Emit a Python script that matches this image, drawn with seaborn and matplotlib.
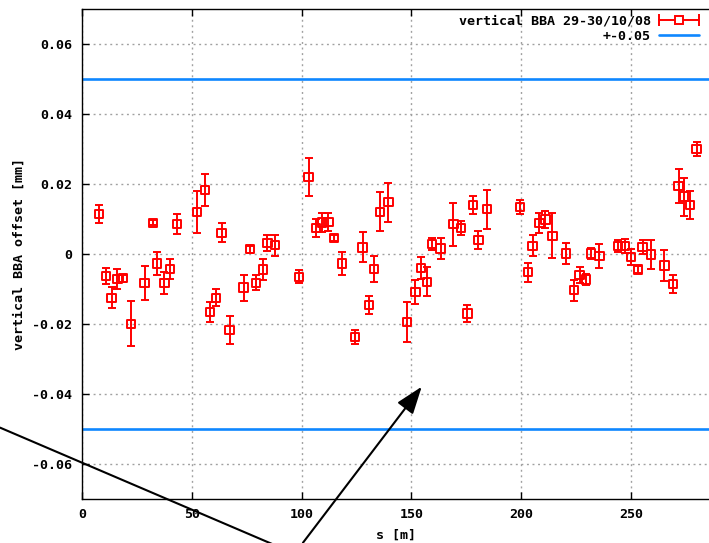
import numpy as np
import pandas as pd
import matplotlib
matplotlib.use("Agg")
import matplotlib.pyplot as plt
from matplotlib.lines import Line2D
from matplotlib.legend_handler import HandlerLine2D, HandlerTuple
import seaborn as sns

# ---------------- data ----------------
s_pos = [7.7, 10.8, 13.5, 16.1, 18.8, 22.3, 28.5, 32.3, 34.3, 37.5, 40.2, 43.4,
         52.4, 56.0, 58.3, 60.9, 63.6, 67.2, 73.6, 76.6, 79.2, 82.4, 84.4, 88.0, 98.7,
         103.2, 106.7, 109.3, 112.2, 114.9, 118.4, 124.2, 127.8, 130.6, 133.0, 135.7, 139.5,
         148.1, 151.8, 154.5, 157.2, 159.5, 163.3, 169.1, 172.6, 175.5, 178.0, 180.5, 184.3,
         199.5, 203.0, 205.2, 208.3, 211.0, 214.2, 220.3, 223.9, 226.6, 229.4, 231.8, 235.6,
         244.2, 247.3, 250.0, 253.2, 255.3, 259.0, 265.2, 269.0, 271.7, 274.1, 276.9, 279.9]
offset = [0.0113, -0.0064, -0.0126, -0.0073, -0.0070, -0.0200, -0.0083, 0.0088, -0.0028, -0.0083, -0.0044, 0.0084,
          0.0120, 0.0182, -0.0166, -0.0126, 0.0060, -0.0218, -0.0097, 0.0013, -0.0083, -0.0045, 0.0030, 0.0024, -0.0066,
          0.0219, 0.0074, 0.0089, 0.0091, 0.0044, -0.0028, -0.0238, 0.0018, -0.0146, -0.0044, 0.0120, 0.0147,
          -0.0195, -0.0109, -0.0041, -0.0080, 0.0028, 0.0015, 0.0084, 0.0074, -0.0171, 0.0140, 0.0039, 0.0127,
          0.0133, -0.0053, 0.0022, 0.0088, 0.0098, 0.0051, 0.0001, -0.0104, -0.0060, -0.0074, 0.0001, -0.0007,
          0.0022, 0.0022, -0.0010, -0.0045, 0.0020, -0.0002, -0.0034, -0.0087, 0.0193, 0.0163, 0.0139, 0.0300]
offset_err = [0.0025, 0.0022, 0.0030, 0.0029, 0.0010, 0.0065, 0.0048, 0.0007, 0.0033, 0.0032, 0.0029, 0.0029,
              0.0060, 0.0045, 0.0028, 0.0024, 0.0028, 0.0041, 0.0037, 0.0010, 0.0022, 0.0029, 0.0023, 0.0030, 0.0019,
              0.0053, 0.0025, 0.0027, 0.0025, 0.0008, 0.0034, 0.0020, 0.0043, 0.0026, 0.0036, 0.0055, 0.0056,
              0.0058, 0.0034, 0.0032, 0.0042, 0.0017, 0.0031, 0.0061, 0.0020, 0.0025, 0.0026, 0.0025, 0.0056,
              0.0019, 0.0027, 0.0030, 0.0028, 0.0025, 0.0064, 0.0030, 0.0030, 0.0023, 0.0015, 0.0015, 0.0035,
              0.0018, 0.0021, 0.0023, 0.0010, 0.0020, 0.0042, 0.0045, 0.0026, 0.0048, 0.0054, 0.0039, 0.0020]
limit = 0.05

x_ticks = [0, 50, 100, 150, 200, 250]
x_tick_labels = ["0", "50", "100", "150", "200", "250"]
y_ticks = [-0.06, -0.04, -0.02, 0.0, 0.02, 0.04, 0.06]
y_tick_labels = ["-0.06", "-0.04", "-0.02", "0", "0.02", "0.04", "0.06"]

series_label = "vertical BBA 29-30/10/08"
limit_label = "+-0.05"
x_label = "s [m]"
y_label = "vertical BBA offset [mm]"

# annotation arrows (data coordinates, drawn outside the axes like the reference)
arrow1_tail = (-37.3, -0.0497)
arrow1_head = (112.9, -0.0900)
arrow2_tail = (100.6, -0.0826)
arrow2_head = (154.7, -0.0380)

df = pd.DataFrame({"s": s_pos, "offset": offset, "err": offset_err})

# ---------------- figure ----------------
sns.set_theme(style="white")
FONT = ["DejaVu Sans Mono", "DejaVu Sans"]
plt.rcParams["font.family"] = FONT
plt.rcParams["font.weight"] = "bold"
plt.rcParams["text.color"] = "black"
plt.rcParams["axes.labelcolor"] = "black"
plt.rcParams["xtick.color"] = "black"
plt.rcParams["ytick.color"] = "black"

W, H = 709, 543
fig = plt.figure(figsize=(W / 100, H / 100), dpi=100)
left, right, top, bottom = 82, 709, 8.7, 498.7
ax = fig.add_axes([left / W, 1 - bottom / H, (right - left) / W, (bottom - top) / H])

RED = "#ff0000"
BLUE = "#0f87ff"
FS = 9.6

ax.errorbar(df["s"], df["offset"], yerr=df["err"], fmt="none", ecolor=RED,
            elinewidth=1.4, capsize=2.9, capthick=1.4, zorder=3)
sns.scatterplot(data=df, x="s", y="offset", ax=ax, marker="s", s=36,
                facecolor="none", edgecolor=RED, linewidth=1.4, zorder=4, legend=False)
ax.axhline(limit, color=BLUE, lw=1.9, zorder=2)
ax.axhline(-limit, color=BLUE, lw=1.9, zorder=2)

ax.set_xlim(0, (right - left) / 2.196)
ax.set_ylim(-0.07, 0.07)
ax.set_xticks(x_ticks)
ax.set_xticklabels(x_tick_labels)
ax.set_yticks(y_ticks)
ax.set_yticklabels(y_tick_labels)

ax.grid(True, color="#a0a0a0", linestyle=(0, (1.4, 2.6)), linewidth=1.0)
ax.set_axisbelow(True)
for side in ["left", "bottom", "top"]:
    ax.spines[side].set_visible(True)
    ax.spines[side].set_color("black")
    ax.spines[side].set_linewidth(1.0)
ax.spines["right"].set_visible(False)

ax.tick_params(axis="both", which="major", direction="in", length=5, width=1,
               colors="black", labelcolor="black", labelsize=FS, top=True, left=True, bottom=True)
ax.tick_params(axis="y", pad=7)
ax.tick_params(axis="x", pad=7)
for lab in ax.get_xticklabels() + ax.get_yticklabels():
    lab.set_fontweight("bold")
    lab.set_family(FONT)
    lab.set_color("black")

ax.set_xlabel(x_label, fontsize=FS, fontweight="bold", labelpad=5, color="black")
ax.set_ylabel(y_label, fontsize=FS, fontweight="bold", labelpad=5, color="black")

# legend handles imitating gnuplot's key
h_line = Line2D([], [], color=RED, lw=1.4)
h_caps = Line2D([], [], color=RED, lw=0, marker="|", markersize=8, markeredgewidth=1.4)
h_box = Line2D([], [], color=RED, lw=0, marker="s", markersize=5.5,
               markerfacecolor="white", markeredgecolor=RED, markeredgewidth=1.4)
h_blue = Line2D([], [], color=BLUE, lw=1.9)
leg = ax.legend([(h_line, h_caps, h_box), h_blue], [series_label, limit_label],
                handler_map={h_caps: HandlerLine2D(numpoints=2, marker_pad=0.0),
                             h_box: HandlerLine2D(numpoints=1),
                             tuple: HandlerTuple(ndivide=1)},
                loc="upper right", bbox_to_anchor=(699 / W, 1 - 14.5 / H),
                bbox_transform=fig.transFigure, frameon=False, markerfirst=False,
                handlelength=3.0, handletextpad=0.6, labelspacing=0.15,
                borderpad=0, borderaxespad=0,
                prop={"family": FONT, "weight": "bold", "size": FS})
for t in leg.get_texts():
    t.set_color("black")

# arrows
ax.annotate("", xy=arrow1_head, xytext=arrow1_tail, xycoords="data",
            annotation_clip=False,
            arrowprops=dict(arrowstyle="-", color="black", lw=1.5, shrinkA=0, shrinkB=0))
ax.annotate("", xy=arrow2_head, xytext=arrow2_tail, xycoords="data",
            annotation_clip=False,
            arrowprops=dict(arrowstyle="-|>,head_length=1.4,head_width=0.5",
                            color="black", lw=1.5, shrinkA=0, shrinkB=0))

fig.savefig("out.png", dpi=100)
